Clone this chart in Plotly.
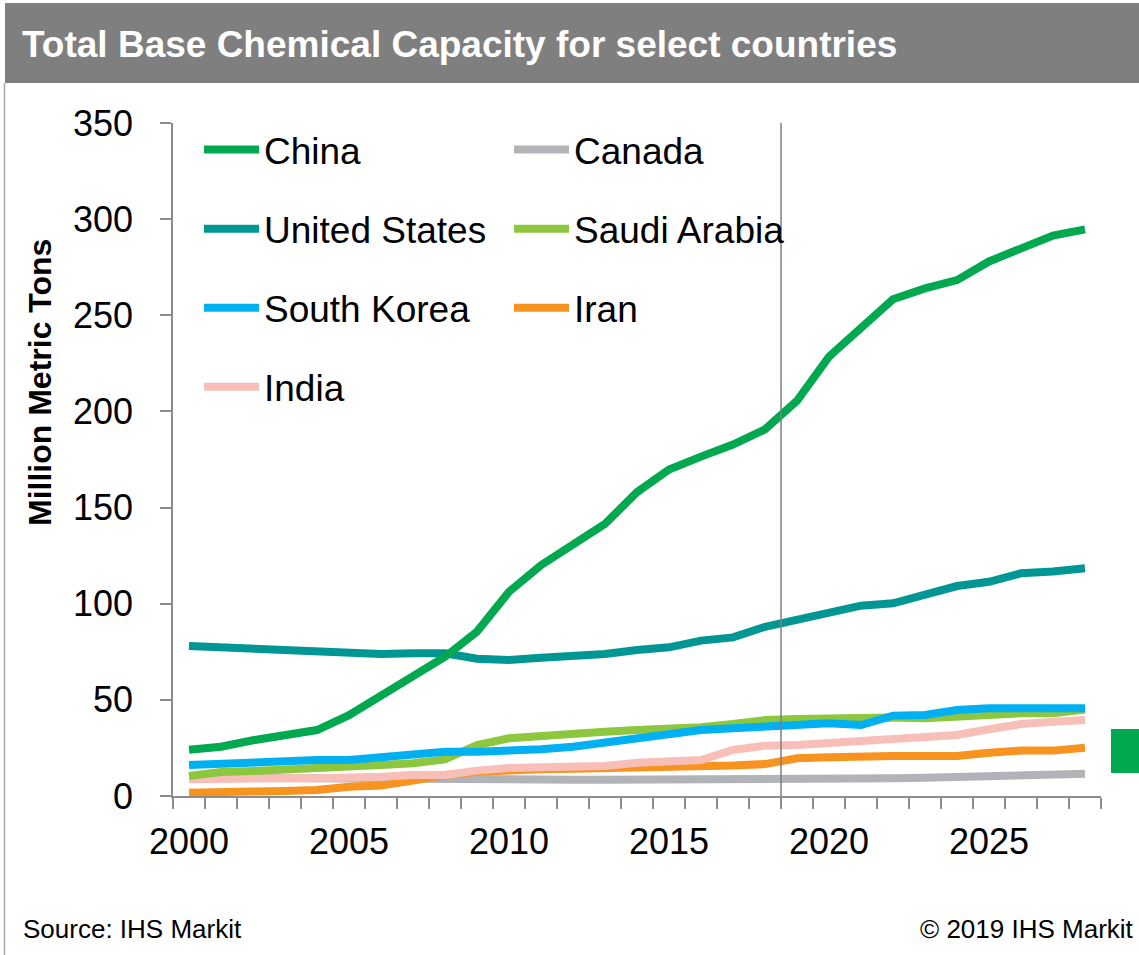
import plotly.graph_objects as go

years = [2000, 2001, 2002, 2003, 2004, 2005, 2006, 2007, 2008, 2009,
         2010, 2011, 2012, 2013, 2014, 2015, 2016, 2017, 2018, 2019,
         2020, 2021, 2022, 2023, 2024, 2025, 2026, 2027, 2028]

china = [24, 25.6, 29, 31.4, 34.3, 42, 52.5, 62, 72.4, 85.5,
         106.2, 120, 131.3, 141.5, 158, 169.8, 176.5, 182.8, 190.7, 205.5,
         228.5, 244, 258.3, 264, 268.3, 278, 284.8, 291.5, 294.7]
united_states = [78, 77.3, 77.2, 76.6, 75.9, 75.2, 73.8, 74.2, 74.2, 71.4,
                 70.7, 71.9, 72.4, 73.8, 75.9, 77.3, 80.8, 82.5, 88, 91.9,
                 95.9, 99, 100.2, 104.5, 109.2, 111.4, 115.8, 116.7, 118.4]
south_korea = [16.1, 17, 17.5, 18.2, 18.7, 18.7, 20.1, 21.7, 23, 23,
               23.4, 24.3, 25.6, 27.7, 30, 32.6, 34.3, 35.2, 36, 37.4,
               37.8, 36.9, 41.8, 42.1, 44.7, 45.6, 45.6, 45.6, 45.6]
india = [8.7, 9.2, 9.2, 9.2, 9.2, 9.2, 10, 10.9, 10.9, 13.2,
         14.6, 14.9, 15.3, 15.6, 17.3, 17.8, 18.7, 23.9, 26.2, 26.5,
         27.4, 28.1, 30, 30.5, 31.7, 34.7, 37.4, 38.6, 39.5]
canada = [9.5, 9.5, 9.5, 9.5, 9.5, 9.5, 9.5, 9.3, 9, 8.5,
          8.5, 8.5, 8.5, 8.4, 8.4, 8.3, 8.2, 8.3, 8.3, 8.3,
          8.3, 8.3, 9.2, 9.5, 10, 10.9, 11.6, 11.6, 11.6]
saudi_arabia = [10.4, 12.5, 13, 13.5, 14.4, 15.3, 16.1, 17, 19, 26.5,
                30, 31.4, 32.6, 33.4, 34.3, 34.5, 35.7, 37.4, 39.5, 40,
                40.4, 41.2, 40.8, 40.4, 41.2, 42.6, 43, 43, 45]
iran = [1.7, 2.4, 2.4, 2.6, 3.1, 4.8, 5.4, 8, 10.9, 12.6,
        13.5, 13.9, 14.2, 14.4, 14.6, 15, 14.9, 15.8, 16.6, 19.6,
        20.1, 20.8, 20.8, 20.8, 20.8, 22.5, 23.6, 23.6, 25.1]

y_ticks = [0, 50, 100, 150, 200, 250, 300, 350]
x_label_years = [2000, 2005, 2010, 2015, 2020, 2025]
divider_year = 2018.5

title_text = "Total Base Chemical Capacity for select countries"
y_title = "Million Metric Tons"
source_text = "Source: IHS Markit"
copyright_text = "© 2019 IHS Markit"

FONT = "Liberation Sans, Arial, sans-serif"

# plot-area pixel geometry
L, R, T, B = 173, 1101, 123, 796
W, H = R - L, B - T


def px_x(p):
    return (p - L) / W


def px_y(p):
    return (B - p) / H


# name, values, color, legend, rank  (draw order: first = bottom)
series = [
    ("Canada", canada, "#B2B3B6", "legend2", 1),
    ("Iran", iran, "#F7931E", "legend2", 3),
    ("India", india, "#F8BFB8", "legend", 4),
    ("Saudi Arabia", saudi_arabia, "#8DC63F", "legend2", 2),
    ("South Korea", south_korea, "#00B0F0", "legend", 3),
    ("United States", united_states, "#009694", "legend", 2),
    ("China", china, "#00A84F", "legend", 1),
]

fig = go.Figure()
for name, vals, color, leg, rank in series:
    fig.add_trace(go.Scatter(
        x=years, y=vals, name=name, mode="lines",
        line=dict(color=color, width=8),
        legend=leg, legendrank=rank, legendgroup=name,
        hoverinfo="skip",
    ))

legend_common = dict(
    orientation="v",
    bgcolor="rgba(0,0,0,0)",
    font=dict(family=FONT, size=37, color="#000000"),
    itemwidth=55,
    tracegroupgap=28,
    xanchor="left",
    yanchor="top",
    itemclick=False,
    itemdoubleclick=False,
)

fig.update_layout(
    width=1139,
    height=955,
    margin=dict(l=L, r=1139 - R, t=T, b=955 - B, pad=0),
    paper_bgcolor="#FFFFFF",
    plot_bgcolor="#FFFFFF",
    font=dict(family=FONT, size=36, color="#000000"),
    showlegend=True,
    legend=dict(x=px_x(199), y=px_y(119), **legend_common),
    legend2=dict(x=px_x(509), y=px_y(119), **legend_common),
    hovermode=False,
)

fig.update_xaxes(
    range=[1999.5, 2028.5],
    tickmode="array",
    tickvals=x_label_years,
    ticktext=[str(v) for v in x_label_years],
    ticks="outside",
    ticklen=11,
    tickcolor="rgba(0,0,0,0)",
    tickfont=dict(family=FONT, size=36, color="#000000"),
    ticklabelstandoff=2,
    showgrid=False,
    zeroline=False,
    showline=True,
    linecolor="#8C8C8C",
    linewidth=1.5,
    minor=dict(tickmode="linear", tick0=1999.5, dtick=1, ticks="outside",
               ticklen=11, tickcolor="#8C8C8C", tickwidth=1.5, showgrid=False),
)

fig.update_yaxes(
    range=[0, 350],
    tickmode="array",
    tickvals=y_ticks,
    ticks="outside",
    ticklen=11,
    tickcolor="#8C8C8C",
    tickwidth=1.5,
    tickfont=dict(family=FONT, size=36, color="#000000"),
    ticklabelstandoff=20,
    showgrid=False,
    zeroline=False,
    showline=True,
    linecolor="#8C8C8C",
    linewidth=1.5,
)

shapes = [
    # header band
    dict(type="rect", xref="paper", yref="paper",
         x0=px_x(5), x1=px_x(1139), y0=px_y(83), y1=px_y(3),
         fillcolor="#7F7F7F", line=dict(width=0), layer="below"),
    # left border line
    dict(type="line", xref="paper", yref="paper",
         x0=px_x(4.5), x1=px_x(4.5), y0=px_y(83), y1=px_y(955),
         line=dict(color="#A6A6A6", width=1.5)),
    # forecast divider
    dict(type="line", xref="x", yref="y",
         x0=divider_year, x1=divider_year, y0=0, y1=350,
         line=dict(color="#7F7F7F", width=1.5), layer="above"),
    # green marker block on right edge
    dict(type="rect", xref="paper", yref="paper",
         x0=px_x(1111), x1=px_x(1139), y0=px_y(773), y1=px_y(729),
         fillcolor="#00A84F", line=dict(width=0)),
]
fig.update_layout(shapes=shapes)

annotations = [
    dict(text="<b>" + title_text + "</b>", xref="paper", yref="paper",
         x=px_x(20), y=px_y(45), xanchor="left", yanchor="middle",
         showarrow=False, font=dict(family=FONT, size=37, color="#FFFFFF")),
    dict(text="<b>" + y_title + "</b>", xref="paper", yref="paper",
         x=px_x(40), y=px_y(383), xanchor="center", yanchor="middle",
         textangle=-90, showarrow=False,
         font=dict(family=FONT, size=32, color="#000000")),
    dict(text=source_text, xref="paper", yref="paper",
         x=px_x(21), y=px_y(929), xanchor="left", yanchor="middle",
         showarrow=False, font=dict(family=FONT, size=26, color="#000000")),
    dict(text=copyright_text, xref="paper", yref="paper",
         x=px_x(1136), y=px_y(929), xanchor="right", yanchor="middle",
         showarrow=False, font=dict(family=FONT, size=26, color="#000000")),
]
fig.update_layout(annotations=annotations)

fig.write_html("out.html", config={"displayModeBar": False})
